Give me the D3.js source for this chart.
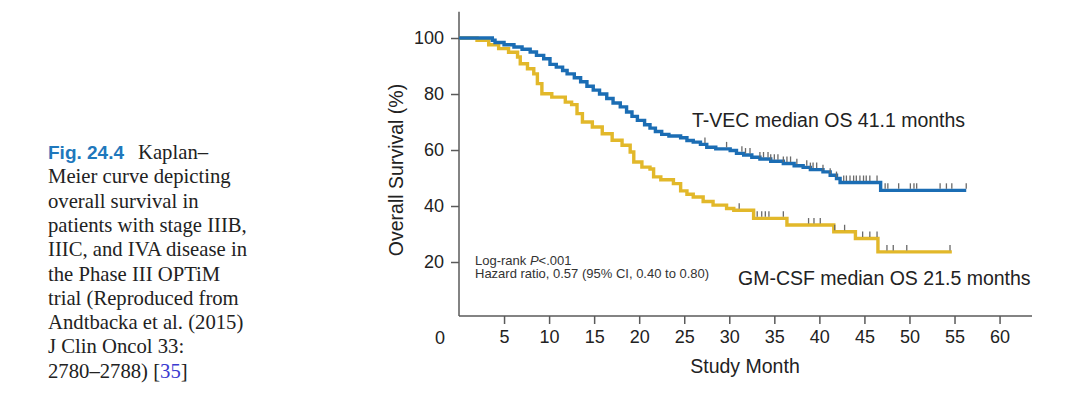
<!DOCTYPE html>
<html>
<head>
<meta charset="utf-8">
<script src="https://cdn.jsdelivr.net/npm/d3@7"></script>
<style>
  body { margin: 0; background: #fff; }
  svg { display: block; }
  .axis path, .axis line { stroke: #5a5a5a; stroke-width: 1.5; }
  .axis text { font-family: "Liberation Sans", Arial, sans-serif; font-size: 18px; fill: #222; }
  .km { fill: none; stroke-width: 3.4; }
  .censor { stroke: #6a6a6a; stroke-width: 1.3; }
</style>
</head>
<body>
<script>
// Kaplan-Meier steps: [month, survival %]
var tvecSteps = [
  [0,100],[3.7,99.2],[4.0,98.4],[5.0,97.6],[6.1,96.8],[7.0,96.0],[7.9,95.0],[8.6,93.8],
  [9.4,92.6],[10.1,90.6],[10.8,89.6],[11.5,88.4],[12.0,87.2],[12.8,85.8],[13.5,84.4],
  [14.2,82.8],[14.9,81.4],[15.6,80.0],[16.4,78.4],[17.1,76.8],[17.9,75.4],[18.6,73.6],
  [19.2,72.0],[19.8,70.6],[20.6,69.0],[21.2,67.8],[21.8,66.6],[22.5,65.6],[23.3,65.0],
  [24.6,64.4],[25.3,63.4],[26.0,62.8],[26.8,62.0],[27.5,61.0],[28.5,60.4],[30.1,59.8],
  [30.8,58.8],[31.6,58.2],[32.5,57.4],[33.4,56.8],[34.6,56.0],[36.0,55.2],[37.2,54.4],
  [38.2,53.8],[39.0,53.0],[40.4,52.2],[41.2,51.0],[41.9,49.8],[42.3,48.4],[46.8,45.6],
  [56.3,45.6]
];
var gmcsfSteps = [
  [0,100],[2.0,99.2],[3.3,97.6],[4.4,96.2],[5.5,94.9],[6.5,93.2],[6.8,90.8],[7.6,89.0],
  [8.3,87.2],[8.7,83.7],[9.2,80.1],[10.3,78.9],[11.8,77.1],[12.5,76.2],[13.1,73.0],
  [13.7,70.0],[14.8,68.2],[15.9,65.8],[17.0,63.5],[18.1,61.7],[19.0,59.3],[19.4,55.7],
  [20.3,53.9],[21.2,53.2],[21.6,50.4],[22.4,49.4],[23.8,48.0],[24.6,45.4],[25.3,44.2],
  [26.0,43.2],[27.1,41.6],[28.2,40.3],[29.7,39.1],[30.5,38.5],[32.7,35.6],[36.4,33.2],
  [41.6,30.8],[44.0,28.4],[46.5,23.6],[54.7,23.6]
];

// censored patients (months)
var tvecCensor = [27.3,29.7,31.4,31.8,32.3,33.4,33.8,34.3,34.6,35.0,35.4,36.0,36.4,36.8,
  37.5,38.6,39.0,39.3,39.7,40.4,41.2,41.9,42.7,43.0,43.4,43.8,44.1,44.5,44.9,45.2,45.6,
  46.4,47.3,47.6,48.8,50.1,50.5,50.8,53.4,54.1,54.7,56.3];
var gmcsfCensor = [31.1,33.1,33.6,34.0,34.4,36.0,38.8,39.4,40.1,41.7,42.8,44.8,45.6,46.4,
  47.5,48.2,49.7,54.5];

var xTicks = [5,10,15,20,25,30,35,40,45,50,55,60];
var yTicks = [20,40,60,80,100];

var captionLines = [
  "Meier curve depicting",
  "overall survival in",
  "patients with stage IIIB,",
  "IIIC, and IVA disease in",
  "the Phase III OPTiM",
  "trial (Reproduced from",
  "Andtbacka et al. (2015)",
  "J Clin Oncol 33:"
];

var blue = "#1b6db4", gold = "#e2b82a";
var sans = '"Liberation Sans", Arial, sans-serif';
var serif = '"Liberation Serif", "Times New Roman", serif';

var svg = d3.select("body").append("svg").attr("width", 1080).attr("height", 394);

var x = d3.scaleLinear().domain([0, 63.6]).range([459, 1032]);
var y = d3.scaleLinear().domain([0, 109.4]).range([318, 11.7]);

// axes
svg.append("g").attr("class", "axis").attr("transform", "translate(0,316)")
  .call(d3.axisBottom(x).tickValues(xTicks).tickSize(8).tickSizeOuter(0).tickPadding(6))
  .call(function(g) { g.select(".domain").attr("d", "M" + x(0) + ",0H" + x(63.6)); });
svg.append("g").attr("class", "axis").attr("transform", "translate(" + x(0) + ",0)")
  .call(d3.axisLeft(y).tickValues(yTicks).tickSize(8).tickSizeOuter(0).tickPadding(7))
  .call(function(g) { g.select(".domain").attr("d", "M0," + y(109.4) + "V316"); });

svg.append("text").attr("x", 440).attr("y", 344).attr("text-anchor", "middle")
  .style("font-family", sans).style("font-size", "18px").style("fill", "#222").text("0");

svg.append("text").attr("x", 745).attr("y", 373).attr("text-anchor", "middle")
  .style("font-family", sans).style("font-size", "19.5px").style("fill", "#222").text("Study Month");
svg.append("text").attr("transform", "translate(403,170) rotate(-90)").attr("text-anchor", "middle")
  .style("font-family", sans).style("font-size", "19.5px").style("fill", "#222").text("Overall Survival (%)");

// curves
var line = d3.line().curve(d3.curveStepAfter)
  .x(function(d) { return x(d[0]); })
  .y(function(d) { return y(d[1]); });

function survAt(steps, t) {
  var v = steps[0][1];
  steps.forEach(function(s) { if (s[0] <= t) v = s[1]; });
  return v;
}

function drawGroup(steps, censor, color) {
  svg.append("path").datum(steps).attr("class", "km").attr("d", line).style("stroke", color);
  svg.selectAll(null).data(censor).enter().append("line")
    .attr("class", "censor")
    .attr("x1", function(d) { return x(d); }).attr("x2", function(d) { return x(d); })
    .attr("y1", function(d) { return y(survAt(steps, d)) - 1.5; })
    .attr("y2", function(d) { return y(survAt(steps, d)) - 7; });
}
drawGroup(gmcsfSteps, gmcsfCensor, gold);
drawGroup(tvecSteps, tvecCensor, blue);

// annotations
svg.append("text").attr("x", 692).attr("y", 127)
  .style("font-family", sans).style("font-size", "19.5px").style("fill", "#222")
  .text("T-VEC median OS 41.1 months");
svg.append("text").attr("x", 738).attr("y", 285)
  .style("font-family", sans).style("font-size", "19.5px").style("fill", "#222")
  .text("GM-CSF median OS 21.5 months");

var stats = svg.append("g").style("font-family", sans).style("font-size", "13px").style("fill", "#333");
var t1 = stats.append("text").attr("x", 475).attr("y", 264.5);
t1.append("tspan").text("Log-rank ");
t1.append("tspan").style("font-style", "italic").text("P");
t1.append("tspan").text("<.001");
stats.append("text").attr("x", 475).attr("y", 277.5).text("Hazard ratio, 0.57 (95% CI, 0.40 to 0.80)");

// caption
var cap = svg.append("g").style("font-family", serif).style("font-size", "20.7px").style("fill", "#222");
var first = cap.append("text").attr("x", 48).attr("y", 159);
first.append("tspan").style("font-family", sans).style("font-weight", "bold").style("font-size", "19px")
  .style("fill", "#1f78bc").text("Fig. 24.4");
first.append("tspan").attr("x", 138).text("Kaplan–");
cap.selectAll(null).data(captionLines).enter().append("text")
  .attr("x", 48).attr("y", function(d, i) { return 159 + (i + 1) * 24.3; })
  .text(function(d) { return d; });
var last = cap.append("text").attr("x", 48).attr("y", 159 + 9 * 24.3);
last.append("tspan").text("2780–2788) [");
last.append("tspan").style("fill", "#3a3ad0").text("35");
last.append("tspan").text("]");
</script>
</body>
</html>
